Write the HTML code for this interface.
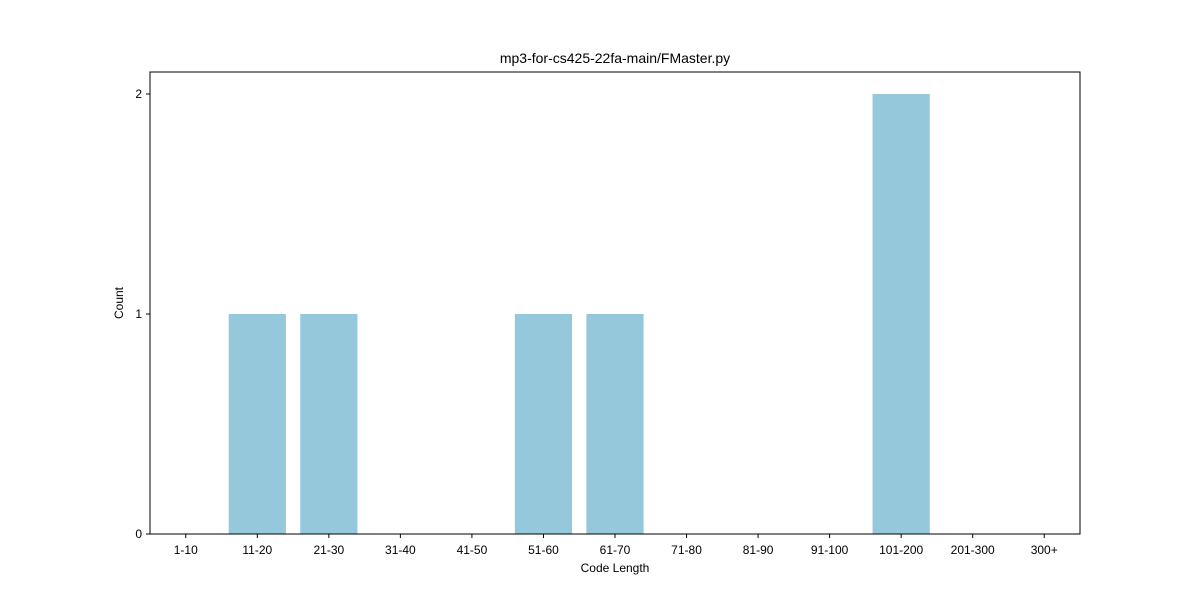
<!DOCTYPE html>
<html><head><meta charset="utf-8"><style>
body{margin:0;background:#fff;}
svg text{font-family:"Liberation Sans","DejaVu Sans",sans-serif;fill:#000;}
</style></head><body>
<svg id="chart" width="1200" height="600">
<rect width="1200" height="600" fill="#fff"/>
<text x="615" y="63" font-size="14" text-anchor="middle">mp3-for-cs425-22fa-main/FMaster.py</text>
<g id="bars"></g>
<g id="xticks"></g>
<g id="yticks"></g>
<rect x="150" y="72" width="930" height="462" fill="none" stroke="#000" stroke-width="1"/>
<text x="615" y="572" font-size="12" text-anchor="middle">Code Length</text>
<text transform="translate(123,303) rotate(-90)" font-size="12" text-anchor="middle">Count</text>
</svg>
<script>
const categories=["1-10","11-20","21-30","31-40","41-50","51-60","61-70","71-80","81-90","91-100","101-200","201-300","300+"];
const counts=[0,1,1,0,0,1,1,0,0,0,2,0,0];
const yTicks=[0,1,2];
const L=150,R=1080,T=72,B=534,yMax=2.1;
const NS="http://www.w3.org/2000/svg";
const step=(R-L)/categories.length;
const xc=i=>L+(i+0.5)*step;
const y=v=>B-(v/yMax)*(B-T);
function mk(t,a){const e=document.createElementNS(NS,t);for(const k in a)e.setAttribute(k,a[k]);return e;}
const bars=document.getElementById('bars'),xt=document.getElementById('xticks'),yt=document.getElementById('yticks');
categories.forEach((c,i)=>{
  const v=counts[i];
  if(v>0){
    const r=mk('rect',{x:xc(i)-0.4*step,y:y(v),width:0.8*step,height:B-y(v),fill:'#96c8dc'});
    
    
    bars.appendChild(r);
  }
  const tk=mk('line',{x1:xc(i),x2:xc(i),y1:B,y2:B+4,stroke:'#000'});
  
  
  xt.appendChild(tk);
  const t=mk('text',{x:xc(i),y:B+20,'font-size':12,'text-anchor':'middle'});
  t.textContent=c;
  
  
  xt.appendChild(t);
});
yTicks.forEach(v=>{
  const tk=mk('line',{x1:L-4,x2:L,y1:y(v),y2:y(v),stroke:'#000'});
  
  
  yt.appendChild(tk);
  const t=mk('text',{x:L-8,y:y(v)+4,'font-size':12,'text-anchor':'end'});
  t.textContent=v;
  
  
  yt.appendChild(t);
});
</script>
</body></html>
